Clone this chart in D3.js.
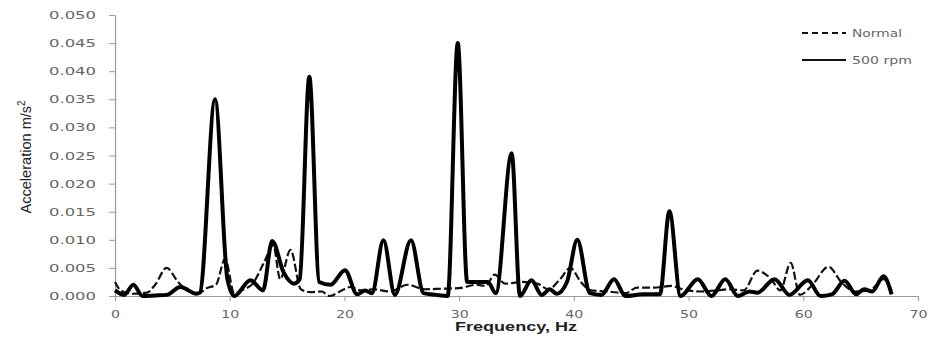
<!DOCTYPE html>
<html lang="en">
<head>
<meta charset="UTF-8">
<title>Acceleration spectrum</title>
<script src="https://d3js.org/d3.v7.min.js"></script>
<style>
  body { margin: 0; background: #fff; }
  svg { display: block; }
  .tick-label { font-family: 'DejaVu Sans', sans-serif; font-size: 11px; fill: #666; }
  .axis-title { font-family: 'Liberation Sans', sans-serif; fill: #222; }
</style>
</head>
<body>
<svg id="chart" width="943" height="340"></svg>
<script>
// 500 rpm series (solid)
const rpmFreq = [0, 0.8, 1.6, 2.4, 3.5, 4.5, 5.7, 7.1, 7.4, 8.72, 9.8, 10.4, 11.8, 12.9, 13.7, 14.7, 15.6, 16.1, 16.94,
  17.8, 18.8, 20.05, 21.1, 21.8, 22.4, 23.4, 24.4, 25.8, 26.9, 28.0, 29.0, 29.88, 30.7, 32.5, 33.2, 34.58, 35.3,
  36.3, 37.2, 37.9, 38.5, 39.4, 40.3, 41.4, 42.4, 43.5, 44.5, 46.0, 47.5, 48.33, 49.3, 50.8, 52.0, 53.2, 54.3,
  55.3, 56.0, 57.5, 58.8, 60.4, 61.5, 62.5, 63.6, 64.6, 65.3, 66.0, 67.0, 67.7];
const rpmAcc = [0.0010, 0.0002, 0.0020, 0.0000, 0.0001, 0.0002, 0.0016, 0.0004, 0.0006, 0.0350, 0.0030, 0.0000, 0.0028, 0.0010, 0.0098, 0.0042, 0.0022, 0.0030, 0.0390,
  0.0025, 0.0020, 0.0046, 0.0003, 0.0010, 0.0005, 0.0099, 0.0002, 0.0099, 0.0005, 0.0002, 0.0000, 0.0450, 0.0025, 0.0025, 0.0005, 0.0254, 0.0000,
  0.0028, 0.0002, 0.0012, 0.0004, 0.0025, 0.0100, 0.0005, 0.0002, 0.0030, 0.0000, 0.0003, 0.0003, 0.0151, 0.0000, 0.0030, 0.0000, 0.0030, 0.0000,
  0.0008, 0.0006, 0.0030, 0.0002, 0.0028, 0.0000, 0.0003, 0.0027, 0.0003, 0.0012, 0.0008, 0.0035, 0.0003];

// Normal series (dashed)
const normFreq = [0, 0.5, 1.5, 2.8, 3.5, 4.5, 5.5, 6.3, 7.3, 8.0, 8.8, 9.6, 10.4, 11.0, 12.0, 13.0, 13.8, 14.4, 15.3, 16.2,
  17.0, 18.0, 18.7, 19.6, 20.5, 21.5, 22.5, 24.0, 25.5, 27.0, 28.5, 30.0, 31.5, 32.3, 33.1, 34.0, 35.5, 36.8, 37.8,
  38.8, 39.7, 40.6, 41.5, 43.0, 44.5, 45.5, 47.0, 48.5, 49.5, 51.0, 52.5, 53.5, 54.8, 56.0, 57.2, 58.0, 58.9, 59.7,
  60.8, 62.2, 63.3, 64.5, 65.8, 67.0, 67.7];
const normAcc = [0.0025, 0.0010, 0.0004, 0.0006, 0.0020, 0.0050, 0.0025, 0.0010, 0.0005, 0.0014, 0.0020, 0.0066, 0.0005, 0.0010, 0.0022, 0.0060, 0.0090, 0.0030, 0.0082, 0.0012,
  0.0007, 0.0008, 0.0000, 0.0008, 0.0016, 0.0010, 0.0012, 0.0008, 0.0020, 0.0012, 0.0013, 0.0014, 0.0020, 0.0018, 0.0038, 0.0022, 0.0025, 0.0022, 0.0012,
  0.0030, 0.0050, 0.0025, 0.0010, 0.0008, 0.0005, 0.0015, 0.0015, 0.0018, 0.0012, 0.0008, 0.0010, 0.0012, 0.0010, 0.0045, 0.0030, 0.0010, 0.0059, 0.0002,
  0.0020, 0.0052, 0.0025, 0.0008, 0.0010, 0.0030, 0.0010];

const xTicks = [0, 10, 20, 30, 40, 50, 60, 70];
const yTicks = [0, 0.005, 0.010, 0.015, 0.020, 0.025, 0.030, 0.035, 0.040, 0.045, 0.050];

const svg = d3.select('#chart');
const margin = { top: 15, right: 25, bottom: 44, left: 115 };
const width = 943 - margin.left - margin.right;
const height = 340 - margin.top - margin.bottom;

const g = svg.append('g').attr('transform', `translate(${margin.left},${margin.top})`);

const x = d3.scaleLinear().domain([0, 70]).range([0, width]);
const y = d3.scaleLinear().domain([0, 0.05]).range([height, 0]);

// axes
const xAxis = g.append('g')
  .attr('transform', `translate(0,${height})`)
  .call(d3.axisBottom(x).tickValues(xTicks).tickSize(5).tickSizeOuter(0).tickFormat(d3.format('d')));
const yAxis = g.append('g')
  .call(d3.axisLeft(y).tickValues(yTicks).tickSize(6).tickSizeOuter(0).tickFormat(d3.format('.3f')));

[xAxis, yAxis].forEach(a => {
  a.select('.domain').attr('stroke', '#999').attr('stroke-width', 1.2);
  a.selectAll('.tick line').attr('stroke', '#999');
  a.selectAll('.tick text').attr('class', 'tick-label').attr('fill', '#666');
});
xAxis.selectAll('.tick text').attr('dy', '1.3em')
  .attr('textLength', d => d === 0 ? 9 : 18).attr('lengthAdjust', 'spacingAndGlyphs');
yAxis.selectAll('.tick text').attr('x', -19)
  .attr('textLength', 47).attr('lengthAdjust', 'spacingAndGlyphs');

// axis titles
svg.append('text')
  .attr('class', 'axis-title')
  .attr('transform', 'translate(31,157) rotate(-90)')
  .attr('text-anchor', 'middle')
  .attr('font-size', 15)
  .attr('textLength', 113).attr('lengthAdjust', 'spacingAndGlyphs')
  .text('Acceleration m/s')
  .append('tspan').attr('font-size', 10).attr('dy', -6).text('2');

svg.append('text')
  .attr('class', 'axis-title')
  .attr('x', 516).attr('y', 331)
  .attr('text-anchor', 'middle')
  .attr('font-family', "'DejaVu Sans', sans-serif")
  .attr('font-weight', 'bold')
  .attr('font-size', 12)
  .attr('textLength', 122).attr('lengthAdjust', 'spacingAndGlyphs')
  .text('Frequency, Hz');

// lines
const line = d3.line()
  .x(d => x(d[0]))
  .y(d => y(d[1]))
  .curve(d3.curveMonotoneX);

const normData = normFreq.map((f, i) => [f, normAcc[i]]);
const rpmData = rpmFreq.map((f, i) => [f, rpmAcc[i]]);

g.append('path')
  .datum(normData)
  .attr('fill', 'none')
  .attr('stroke', '#111')
  .attr('stroke-width', 2.2)
  .attr('stroke-dasharray', '8,3')
  .attr('d', line);

g.append('path')
  .datum(rpmData)
  .attr('fill', 'none')
  .attr('stroke', '#000')
  .attr('stroke-width', 4)
  .attr('stroke-linejoin', 'round')
  .attr('d', line);

// legend
const legend = svg.append('g');
const items = [
  { label: 'Normal', dash: '6,4', w: 2, y: 33 },
  { label: '500 rpm', dash: null, w: 2, y: 60 }
];
items.forEach(it => {
  legend.append('line')
    .attr('x1', 802).attr('x2', 846)
    .attr('y1', it.y).attr('y2', it.y)
    .attr('stroke', '#111')
    .attr('stroke-width', it.w)
    .attr('stroke-dasharray', it.dash);
  legend.append('text')
    .attr('class', 'tick-label')
    .attr('x', 852).attr('y', it.y + 4)
    .attr('font-size', 10)
    .attr('textLength', it.label === 'Normal' ? 50 : 60)
    .attr('lengthAdjust', 'spacingAndGlyphs')
    .text(it.label);
});
</script>
</body>
</html>
